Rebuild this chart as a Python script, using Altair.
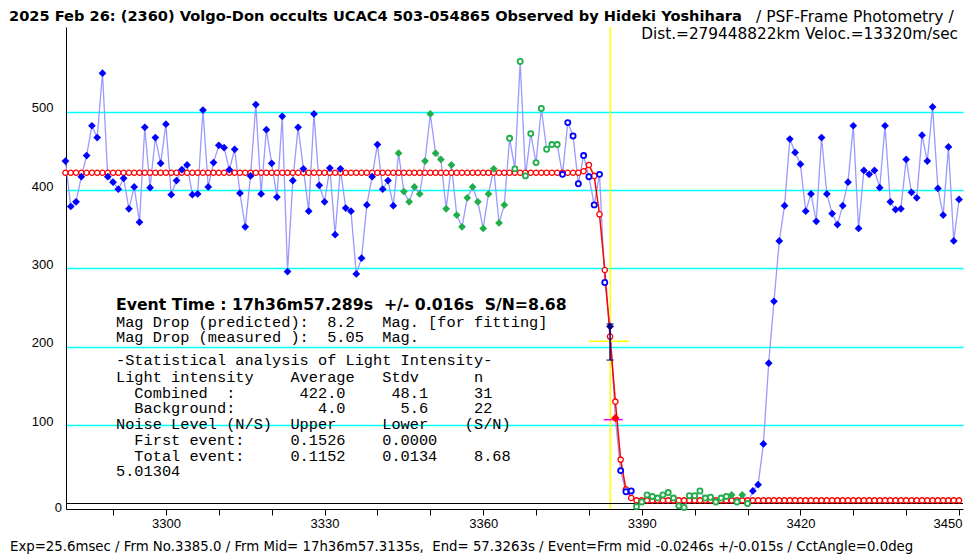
import altair as alt
import pandas as pd

# ---------------- data ----------------
frames = list(range(3281, 3451))
intensity = [
    437, 379, 385, 417, 444, 482, 467, 549, 417, 410,   # 3281-3290
    401, 415, 376, 404, 359, 480, 403, 467, 434, 484,   # 3291-3300
    394, 412, 426, 432, 394, 395, 502, 404, 435, 457,   # 3301-3310
    454, 426, 452, 396, 353, 418, 509, 395, 477, 434,   # 3311-3320
    391, 494, 296, 412, 480, 427, 373, 497, 406, 385,   # 3321-3330
    428, 343, 427, 377, 373, 293, 313, 381, 417, 458,   # 3331-3340
    401, 412, 380, 447, 398, 385, 404, 395, 437, 497,   # 3341-3350
    447, 439, 376, 432, 368, 353, 390, 404, 385, 351,   # 3351-3360
    395, 427, 358, 381, 466, 427, 564, 418, 472, 435,   # 3361-3370
    504, 452, 458, 458, 420, 486, 469, 408, 444, 417,   # 3371-3380
    381, 420, 282, 226, 109, 42, 15, 16, -4, 2,         # 3381-3390
    11, 9, 7, 11, 14, 7, -3, -5, 10, 10,                # 3391-3400
    16, 7, 8, 2, 7, 9, 11, 2, 11, 0,                    # 3401-3410
    16, 24, 76, 179, 258, 335, 380, 465, 448, 433,      # 3411-3420
    373, 395, 360, 467, 395, 370, 356, 380, 410, 482,   # 3421-3430
    351, 425, 420, 425, 403, 482, 385, 375, 376, 439,   # 3431-3440
    397, 390, 470, 437, 506, 402, 368, 455, 335, 388,   # 3441-3450
]
# marker class of each frame
kinds = (["blue_fill"] * 63 + ["green_fill"] * 21 + ["green_open"] * 10 +
         ["blue_open"] * 9 + ["event_a", "event_b"] + ["blue_open"] * 3 +
         ["green_open"] * 18 + ["green_fill", "green_open", "green_fill", "green_open"] +
         ["blue_fill"] * 40)

# fitted light curve model (one value per frame)
fit_values = [422] * 98 + [424, 432, 418, 369, 298, 213, 130, 56, 18, 7] + [4] * 62

event_frame = 3384.04
event_bar = {"frame": [3380.0], "frame2": [3387.6], "value": [207]}
event_err = {"frame": [3384.0], "low": [183], "high": [229]}
half_bar = {"frame": [3382.8], "frame2": [3386.4], "value": [107]}

x_ticks = list(range(3290, 3451, 10))
y_ticks = [100, 200, 300, 400, 500]

W, H = 897, 482
XDOM = [3281.1, 3450.75]
YDOM = [-7, 608]

df = pd.DataFrame({"frame": frames, "value": intensity, "kind": kinds})
fit_df = pd.DataFrame({"frame": frames, "value": fit_values})

xscale = alt.Scale(domain=XDOM, nice=False, zero=False)
yscale = alt.Scale(domain=YDOM, nice=False, zero=False)
xaxis = alt.Axis(values=x_ticks, title=None, grid=False, format="d",
                 labelExpr="datum.value % 30 == 0 ? datum.label : ''",
                 tickSize=6, tickColor="black", domainColor="black",
                 labelFont="Liberation Sans", labelFontSize=13, labelColor="black",
                 labelPadding=2, labelFlush=10, labelFlushOffset=3)
yaxis = alt.Axis(values=y_ticks, title=None, grid=True, gridColor="#00ffff",
                 gridWidth=1.5, ticks=False, tickSize=0, domainColor="black",
                 labelFont="Liberation Sans", labelFontSize=13, labelColor="black",
                 labelPadding=13, labelOffset=-4)

X = alt.X("frame:Q", scale=xscale, axis=xaxis)
Y = alt.Y("value:Q", scale=yscale, axis=yaxis)

base = alt.Chart(df)

vline = alt.Chart(pd.DataFrame({"frame": [event_frame]})).mark_rule(
    color="#ffff00", strokeWidth=1.5).encode(x=X, y=alt.value(0), y2=alt.value(H))

zero_line = alt.Chart(pd.DataFrame({"value": [0]})).mark_rule(
    color="black", strokeWidth=1).encode(y=Y, x=alt.value(0), x2=alt.value(W))

data_line = base.mark_line(color="#9a9aff", strokeWidth=1.3).encode(x=X, y=Y)

fit_line = alt.Chart(fit_df).mark_line(color="#ff0000", strokeWidth=1.5).encode(x=X, y=Y)
fit_pts = alt.Chart(fit_df).mark_point(shape="circle", size=28, fill="white",
                                       filled=False, stroke="#ff0000", strokeWidth=1.3,
                                       opacity=1).encode(x=X, y=Y)


def markers(kind, **kw):
    return base.transform_filter(alt.datum.kind == kind).mark_point(opacity=1, **kw).encode(x=X, y=Y)


blue_fill = markers("blue_fill", shape="diamond", size=60, filled=True, color="#0000ff")
green_fill = markers("green_fill", shape="diamond", size=60, filled=True, color="#1fae4a")
green_open = markers("green_open", shape="circle", size=26, fill="white", stroke="#1fae4a",
                     strokeWidth=1.8)
blue_open = markers("blue_open", shape="circle", size=26, fill="white", stroke="#0000ff",
                    strokeWidth=1.8)

ybar = alt.Chart(pd.DataFrame(event_bar)).mark_rule(color="#ffff00", strokeWidth=1.5).encode(
    x=X, x2="frame2:Q", y=Y)
mbar = alt.Chart(pd.DataFrame(half_bar)).mark_rule(color="#ff00ff", strokeWidth=1.5).encode(
    x=X, x2="frame2:Q", y=Y)
err_df = pd.DataFrame(event_err)
err_rule = alt.Chart(err_df).mark_rule(color="#000080", strokeWidth=1.5).encode(
    x=X, y=alt.Y("low:Q", scale=yscale, axis=yaxis), y2="high:Q")
err_cap_lo = alt.Chart(err_df).mark_tick(color="#000080", orient="horizontal", size=7,
                                         thickness=1.5).encode(
    x=X, y=alt.Y("low:Q", scale=yscale, axis=yaxis))
err_cap_hi = alt.Chart(err_df).mark_tick(color="#000080", orient="horizontal", size=7,
                                         thickness=1.5).encode(
    x=X, y=alt.Y("high:Q", scale=yscale, axis=yaxis))
ev_a = markers("event_a", shape="diamond", size=60, filled=True, color="#000080")
ev_b = markers("event_b", shape="diamond", size=70, filled=True, color="#ff0000")

# ---------------- text ----------------
PL, PT = 66, 27  # plot origin on the page
NB = "\u00a0"
MONO = 15.3
CHAR_W = 0.6 * MONO


def label(txt, px, py, font="Liberation Mono", size=MONO, weight="normal", align="left"):
    lead = len(txt) - len(txt.lstrip(" "))
    px = px + lead * CHAR_W
    txt = txt.lstrip(" ").replace(" ", NB)
    return alt.Chart(pd.DataFrame({"t": [txt]})).mark_text(
        align=align, baseline="middle", font=font, fontSize=size, fontWeight=weight,
        color="black").encode(x=alt.value(px - PL), y=alt.value(py - PT), text="t:N")


texts = [
    label("2025 Feb 26: (2360) Volgo-Don occults UCAC4 503-054865 Observed by Hideki Yoshihara",
          9, 17, font="DejaVu Sans", size=14.6, weight="bold"),
    label("/ PSF-Frame Photometry /", 756, 17, font="DejaVu Sans", size=15.5),
    label("Dist.=279448822km Veloc.=13320m/sec", 958, 34, font="DejaVu Sans", size=15.3,
          align="right"),
    label("Exp=25.6msec / Frm No.3385.0 / Frm Mid= 17h36m57.3135s,  End= 57.3263s / "
          "Event=Frm mid -0.0246s +/-0.015s / CctAngle=0.0deg",
          10, 547, font="DejaVu Sans", size=13.3),
    label("Event Time : 17h36m57.289s  +/- 0.016s  S/N=8.68", 116, 305,
          font="DejaVu Sans", size=15.7, weight="bold"),
    label("Mag Drop (predicted):  8.2   Mag. [for fitting]", 116, 322),
    label("Mag Drop (measured ):  5.05  Mag.", 116, 337),
    label("-Statistical analysis of Light Intensity-", 116, 360),
    label("Light intensity    Average   Stdv      n", 116, 377),
    label("  Combined  :       422.0     48.1     31", 116, 393),
    label("  Background:         4.0      5.6     22", 116, 408),
    label("Noise Level (N/S)  Upper     Lower    (S/N)", 116, 424),
    label("  First event:     0.1526    0.0000", 116, 440),
    label("  Total event:     0.1152    0.0134    8.68", 116, 456),
    label("5.01304", 116, 471),
    label("0", 62, 508, font="Liberation Sans", size=13, align="right"),
]

chart = alt.layer(
    vline, zero_line, data_line, fit_line, fit_pts,
    blue_fill, green_fill, green_open, blue_open,
    ybar, mbar, err_rule, err_cap_lo, err_cap_hi, ev_a, ev_b,
    *texts,
).properties(
    width=W, height=H,
    autosize=alt.AutoSizeParams(type="none"),
    padding={"left": 58, "top": 19, "right": 3, "bottom": 46},
    background="white",
).configure_view(strokeWidth=0)

chart.save("out.html", embed_options={"renderer": "svg", "actions": False})
